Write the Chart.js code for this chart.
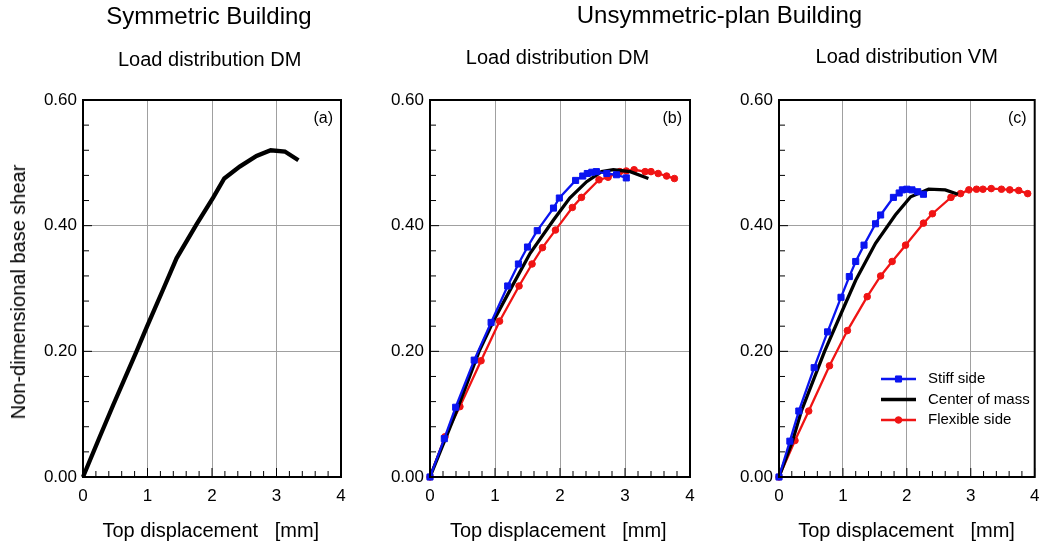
<!DOCTYPE html>
<html>
<head>
<meta charset="utf-8">
<script src="https://cdn.jsdelivr.net/npm/chart.js@4.4.1/dist/chart.umd.min.js"></script>
<style>
  html, body { margin: 0; padding: 0; background: #fff; }
  #page { position: relative; width: 1040px; height: 548px; overflow: hidden;
          font-family: "Liberation Sans", Arial, sans-serif; color: #000; }
  .layer { position: absolute; left: 0; top: 0; width: 1040px; height: 548px; }
  .lbl { position: absolute; line-height: 1; white-space: pre; transform: translate(-50%, -50%); }
  .rot { transform: translate(-50%, -50%) rotate(-90deg); }
</style>
</head>
<body>
<div id="page">
  <div class="layer"><canvas id="chartA"></canvas></div>
  <div class="layer"><canvas id="chartB"></canvas></div>
  <div class="layer"><canvas id="chartC"></canvas></div>

  <div class="lbl" style="left:209px;top:16.4px;font-size:24px">Symmetric Building</div>
  <div class="lbl" style="left:719.5px;top:15.4px;font-size:24px">Unsymmetric-plan Building</div>
  <div class="lbl" style="left:209.7px;top:58.5px;font-size:20px">Load distribution DM</div>
  <div class="lbl" style="left:557.5px;top:56.8px;font-size:20px">Load distribution DM</div>
  <div class="lbl" style="left:906.7px;top:55.5px;font-size:20px">Load distribution VM</div>
  <div class="lbl rot" style="left:17.7px;top:291.7px;font-size:20px">Non-dimensional base shear</div>
  <div class="lbl" style="left:210.8px;top:529.5px;font-size:20px">Top displacement   [mm]</div>
  <div class="lbl" style="left:558.3px;top:529.5px;font-size:20px">Top displacement   [mm]</div>
  <div class="lbl" style="left:906.5px;top:529.5px;font-size:20px">Top displacement   [mm]</div>
</div>

<script>
// axis ticks
const xTicks = [0, 1, 2, 3, 4];
const yTicks = [0, 0.2, 0.4, 0.6];
const seriesNames = ['Stiff side', 'Center of mass', 'Flexible side'];

// (a) symmetric building, DM load distribution
const symX = [0, 0.26, 0.47, 0.83, 0.99, 1.24, 1.45, 1.76, 2.02, 2.19, 2.43, 2.69, 2.91, 3.13, 3.34];
const symY = [0, 0.064, 0.115, 0.200, 0.239, 0.298, 0.348, 0.402, 0.445, 0.475, 0.494, 0.511, 0.520, 0.518, 0.504];

// (b) unsymmetric-plan building, DM load distribution
const dmStiffX = [0, 0.22, 0.395, 0.68, 0.94, 1.195, 1.36, 1.50, 1.65, 1.90, 1.99, 2.24, 2.35, 2.42, 2.49, 2.56, 2.72, 2.87, 3.02];
const dmStiffY = [0, 0.061, 0.111, 0.186, 0.246, 0.304, 0.339, 0.366, 0.392, 0.428, 0.444, 0.472, 0.479, 0.483, 0.485, 0.486, 0.483, 0.481, 0.476];
const dmComX = [0, 0.39, 0.755, 0.97, 1.26, 1.54, 1.90, 2.15, 2.41, 2.64, 2.82, 3.08, 3.36];
const dmComY = [0, 0.100, 0.200, 0.247, 0.303, 0.356, 0.409, 0.444, 0.470, 0.486, 0.489, 0.486, 0.475];
const dmFlexX = [0, 0.23, 0.46, 0.785, 1.07, 1.37, 1.57, 1.73, 1.93, 2.19, 2.33, 2.60, 2.74, 2.92, 3.02, 3.14, 3.31, 3.40, 3.51, 3.64, 3.76];
const dmFlexY = [0, 0.064, 0.112, 0.185, 0.248, 0.304, 0.339, 0.365, 0.393, 0.429, 0.445, 0.473, 0.477, 0.486, 0.487, 0.489, 0.486, 0.486, 0.483, 0.479, 0.475];

// (c) unsymmetric-plan building, VM load distribution
const vmStiffX = [0, 0.17, 0.31, 0.55, 0.76, 0.97, 1.10, 1.20, 1.33, 1.51, 1.59, 1.79, 1.88, 1.93, 2.00, 2.08, 2.17, 2.26];
const vmStiffY = [0, 0.057, 0.105, 0.174, 0.231, 0.286, 0.319, 0.343, 0.369, 0.403, 0.417, 0.445, 0.452, 0.457, 0.458, 0.457, 0.454, 0.450];
const vmComX = [0, 0.21, 0.35, 0.713, 1.0, 1.20, 1.51, 1.82, 2.06, 2.34, 2.60, 2.80];
const vmComY = [0, 0.057, 0.105, 0.200, 0.267, 0.313, 0.372, 0.417, 0.446, 0.458, 0.457, 0.450];
const vmFlexX = [0, 0.25, 0.465, 0.79, 1.07, 1.38, 1.59, 1.77, 1.98, 2.26, 2.40, 2.69, 2.84, 2.97, 3.09, 3.19, 3.32, 3.48, 3.61, 3.75, 3.89];
const vmFlexY = [0, 0.058, 0.105, 0.177, 0.233, 0.287, 0.320, 0.343, 0.369, 0.404, 0.419, 0.445, 0.451, 0.457, 0.458, 0.458, 0.459, 0.458, 0.457, 0.456, 0.451];

const FONT = '"Liberation Sans", Arial, sans-serif';
Chart.defaults.font.family = FONT;
Chart.defaults.color = '#000';

const BLUE = '#0a14f0';
const RED = '#f01414';

function series(xs, ys, label, color, lineW, shape, r) {
    return {
        label: label,
        data: xs.map((v, i) => ({ x: v, y: ys[i] })),
        borderColor: color,
        backgroundColor: color,
        pointBackgroundColor: color,
        pointBorderColor: color,
        pointBorderWidth: 1,
        borderWidth: lineW,
        pointStyle: shape,
        pointRadius: r,
        showLine: true,
        tension: 0,
        clip: false
    };
}

// box frame, inward ticks, panel tag and an inside legend
const framePlugin = {
    id: 'frame',
    afterDraw(chart, args, opts) {
        const { ctx, chartArea: a, scales: { x, y } } = chart;
        ctx.save();
        ctx.strokeStyle = '#000';
        ctx.lineWidth = 1;
        for (let i = 0; i <= 20; i++) {
            const px = x.getPixelForValue(i * 0.2);
            const len = i % 5 === 0 ? 9 : 6;
            ctx.beginPath();
            ctx.moveTo(px, a.bottom);
            ctx.lineTo(px, a.bottom - len);
            ctx.stroke();
        }
        for (let i = 0; i <= 15; i++) {
            const py = y.getPixelForValue(i * 0.04);
            const len = i % 5 === 0 ? 9 : 6;
            ctx.beginPath();
            ctx.moveTo(a.left, py);
            ctx.lineTo(a.left + len, py);
            ctx.stroke();
        }
        ctx.lineWidth = 2;
        ctx.strokeRect(a.left, a.top, a.right - a.left, a.bottom - a.top);

        ctx.fillStyle = '#000';
        ctx.font = '16px ' + FONT;
        ctx.textAlign = 'right';
        ctx.textBaseline = 'middle';
        ctx.fillText(opts.tag, a.right - 8, a.top + 19);

        if (opts.legend) {
            const rows = [279, 299.5, 320];
            ctx.font = '15px ' + FONT;
            ctx.textAlign = 'left';
            chart.data.datasets.forEach((ds, i) => {
                const yy = a.top + rows[i];
                const x0 = a.left + 102;
                ctx.strokeStyle = ds.borderColor;
                ctx.lineWidth = ds.borderWidth;
                ctx.beginPath();
                ctx.moveTo(x0, yy);
                ctx.lineTo(x0 + 35, yy);
                ctx.stroke();
                if (ds.pointRadius > 0) {
                    ctx.fillStyle = ds.pointBackgroundColor;
                    ctx.lineWidth = 1;
                    Chart.helpers.drawPoint(ctx, { pointStyle: ds.pointStyle, radius: ds.pointRadius, borderWidth: 1, rotation: 0 }, x0 + 17.5, yy);
                }
                ctx.fillStyle = '#000';
                ctx.fillText(ds.label, x0 + 47, yy);
            });
        }
        ctx.restore();
    }
};

function makePanel(id, area, datasets, tag, legend) {
    const yW = 50, xH = 40;
    new Chart(document.getElementById(id), {
        type: 'scatter',
        data: { datasets: datasets },
        options: {
            responsive: true,
            maintainAspectRatio: false,
            animation: false,
            events: [],
            layout: {
                padding: { left: area.left - yW, top: area.top, right: 1040 - area.right, bottom: 548 - area.bottom - xH }
            },
            plugins: {
                legend: { display: false },
                tooltip: { enabled: false },
                frame: { tag: tag, legend: legend }
            },
            scales: {
                x: {
                    type: 'linear', min: 0, max: 4,
                    afterBuildTicks: s => { s.ticks = xTicks.map(v => ({ value: v })); },
                    afterFit: s => { s.height = xH; s.paddingLeft = 0; s.paddingRight = 0; },
                    grid: { color: '#a0a0a0', lineWidth: 1, drawTicks: false },
                    border: { display: false },
                    ticks: { font: { size: 17 }, padding: 9, maxRotation: 0, autoSkip: false }
                },
                y: {
                    type: 'linear', min: 0, max: 0.6,
                    afterBuildTicks: s => { s.ticks = yTicks.map(v => ({ value: v })); },
                    afterFit: s => { s.width = yW; s.paddingTop = 0; s.paddingBottom = 0; },
                    grid: { color: '#a0a0a0', lineWidth: 1, drawTicks: false },
                    border: { display: false },
                    ticks: { font: { size: 17 }, padding: 6, autoSkip: false, callback: v => v.toFixed(2) }
                }
            }
        },
        plugins: [framePlugin]
    });
}

document.addEventListener('DOMContentLoaded', function () {
    makePanel('chartA', { left: 83, right: 341, top: 100, bottom: 477 }, [
        series(symX, symY, seriesNames[1], '#000', 4.3, 'circle', 0)
    ], '(a)', false);

    makePanel('chartB', { left: 430, right: 690, top: 100, bottom: 477 }, [
        series(dmStiffX, dmStiffY, seriesNames[0], BLUE, 2.3, 'rect', 4.3),
        series(dmComX, dmComY, seriesNames[1], '#000', 3.3, 'circle', 0),
        series(dmFlexX, dmFlexY, seriesNames[2], RED, 2.3, 'circle', 3.3)
    ], '(b)', false);

    makePanel('chartC', { left: 779, right: 1037, top: 100, bottom: 477 }, [
        series(vmStiffX, vmStiffY, seriesNames[0], BLUE, 2.3, 'rect', 4.3),
        series(vmComX, vmComY, seriesNames[1], '#000', 3.3, 'circle', 0),
        series(vmFlexX, vmFlexY, seriesNames[2], RED, 2.3, 'circle', 3.3)
    ], '(c)', true);
});
</script>
</body>
</html>
